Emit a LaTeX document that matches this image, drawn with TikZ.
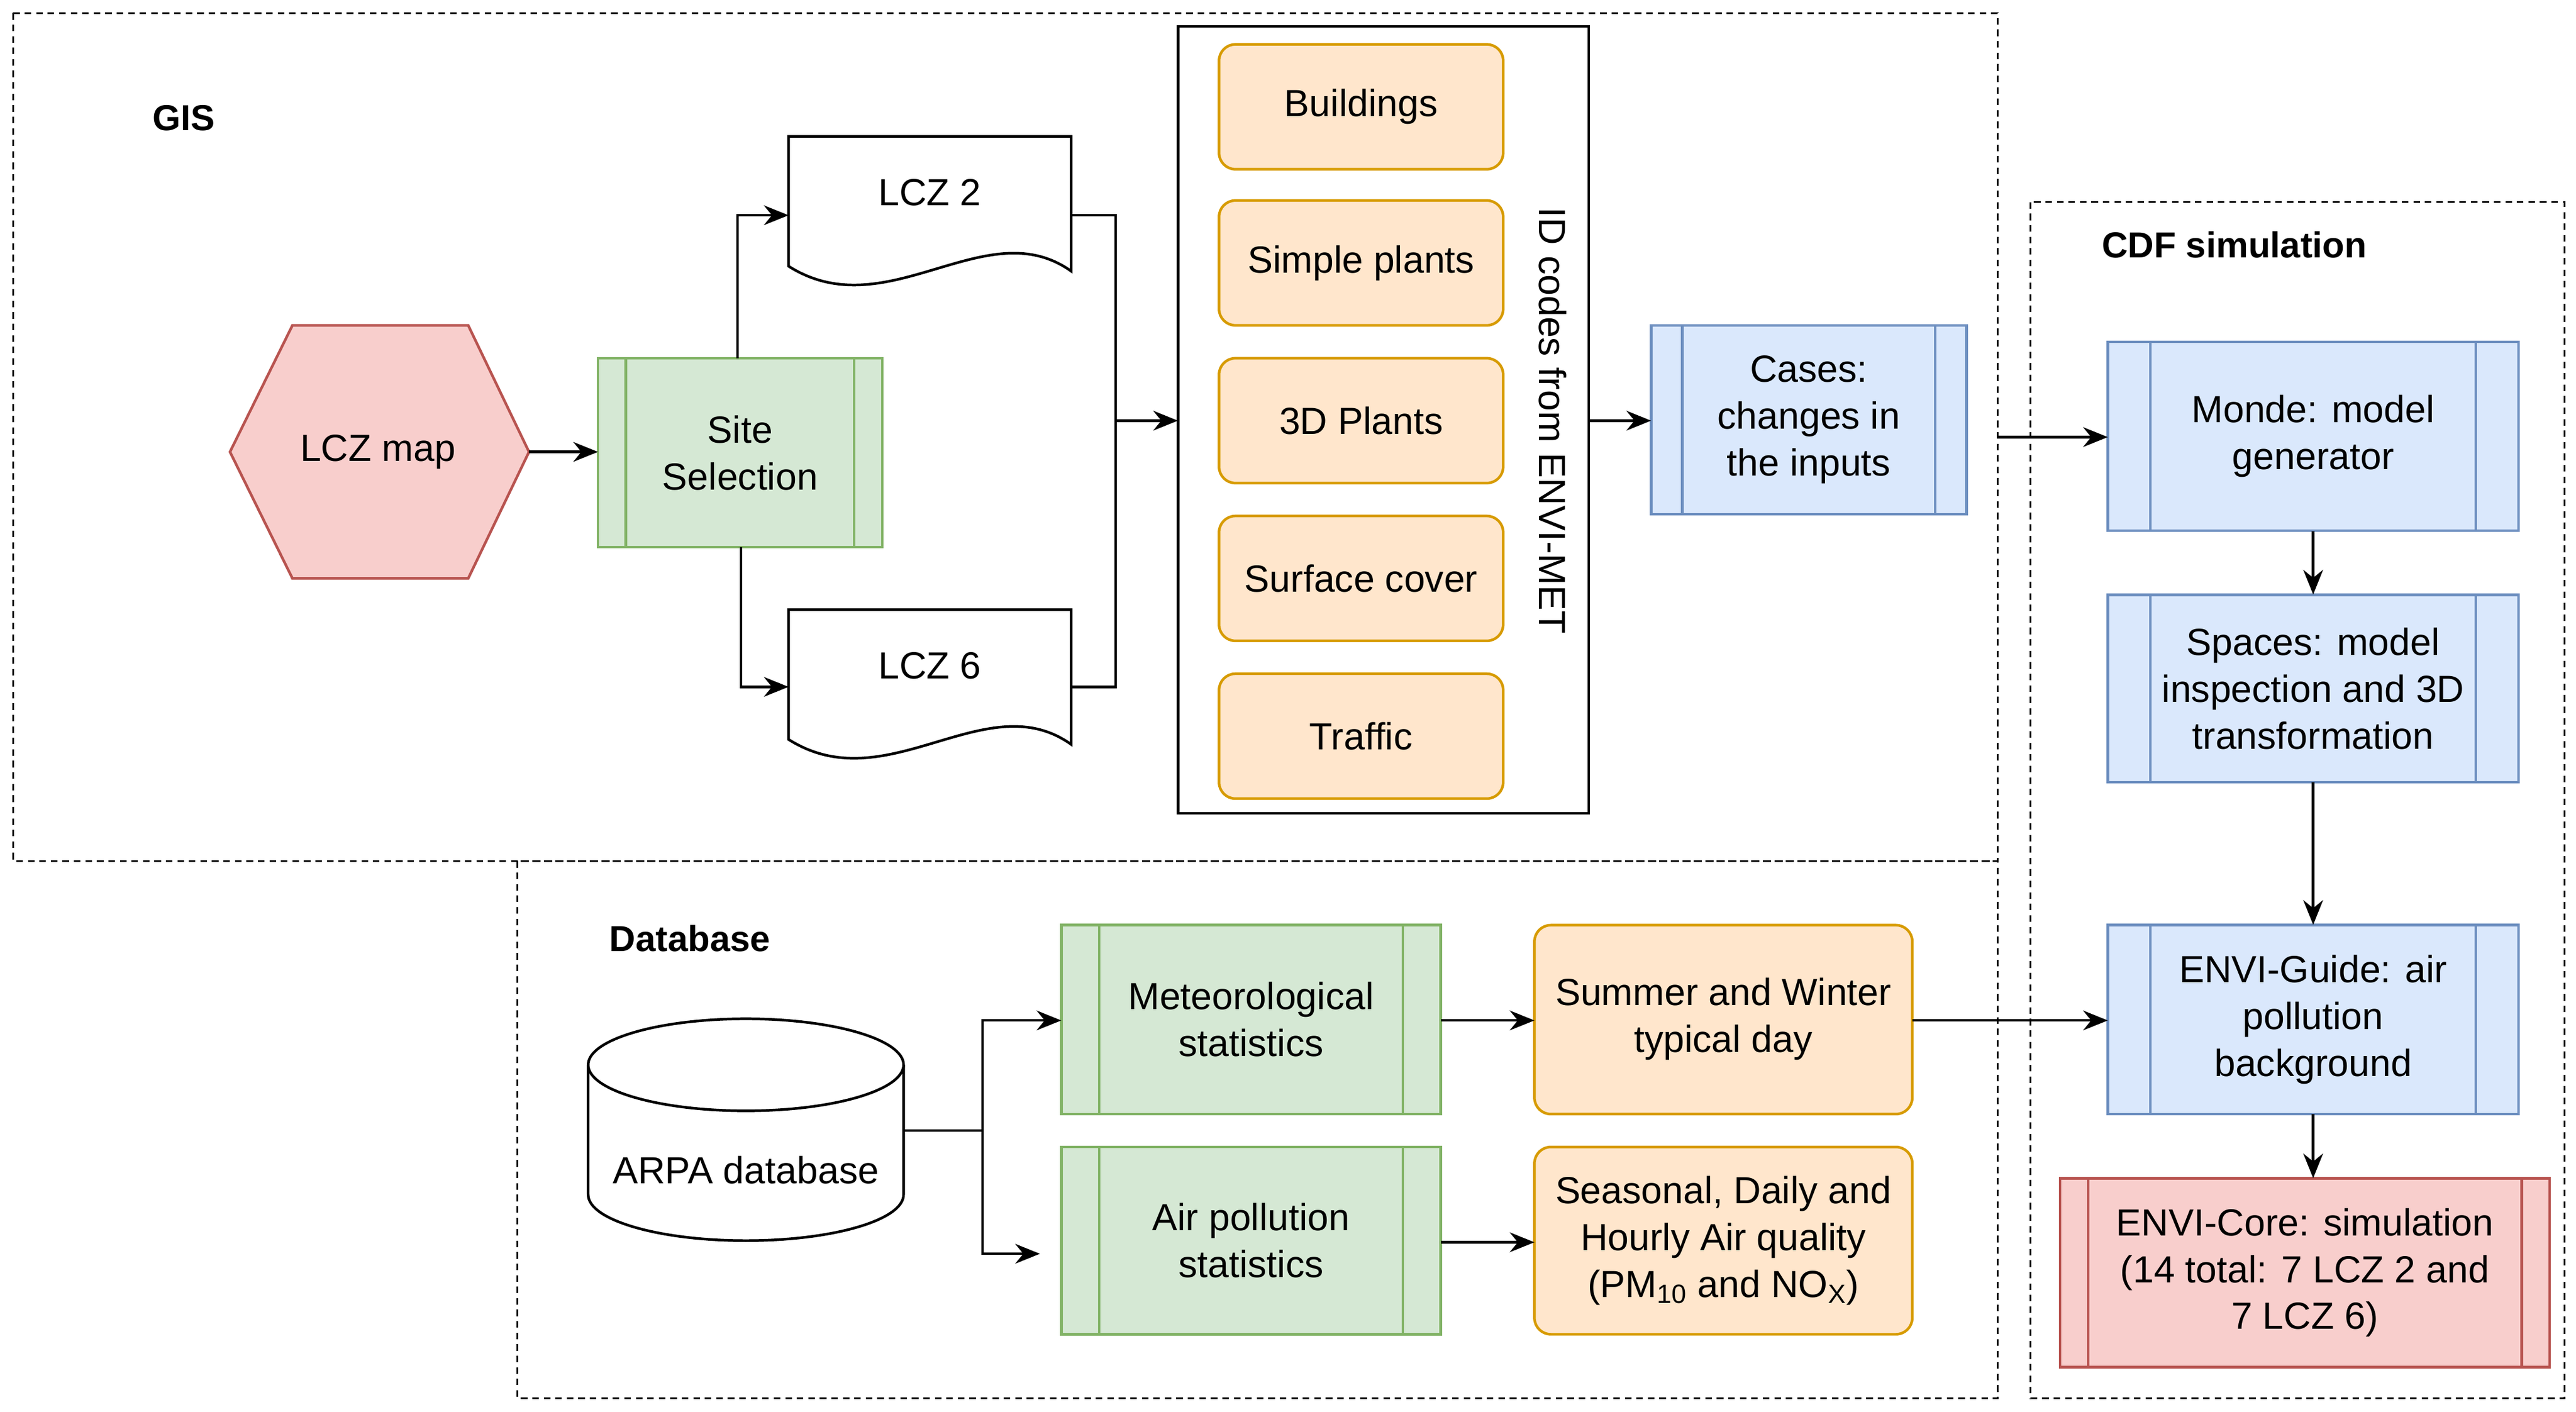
\documentclass[tikz,border=0pt]{standalone}
\usepackage{fontspec}
\setmainfont{Liberation Sans}
\usetikzlibrary{arrows.meta,shapes.geometric}
\definecolor{oF}{HTML}{FFE6CC}\definecolor{oD}{HTML}{D79B00}
\definecolor{gF}{HTML}{D5E8D4}\definecolor{gD}{HTML}{82B366}
\definecolor{bF}{HTML}{DAE8FC}\definecolor{bD}{HTML}{6C8EBF}
\definecolor{rF}{HTML}{F8CECC}\definecolor{rD}{HTML}{B85450}
\begin{document}
\begin{tikzpicture}[x=1pt,y=-1pt,
  every node/.style={font=\fontsize{23}{28.5}\selectfont,align=center},
  arr/.style={-{Stealth[length=15pt,width=12pt]},line width=1.6pt},
  grp/.style={dash pattern=on 4pt off 3pt,line width=1.2pt},
  orange/.style={draw=oD,fill=oF,line width=1.6pt,rounded corners=10pt},
  green/.style={draw=gD,fill=gF},
  blue/.style={draw=bD,fill=bF},
  red/.style={draw=rD,fill=rF}]
\useasboundingbox (0,0) rectangle (1568,859);
% groups
\draw[grp] (8,8) rectangle (1216,524);
\draw[grp] (1236,123) rectangle (1561,851);
\draw[grp] (315,524) rectangle (1216,851);
\node[font=\fontsize{22}{28}\selectfont\bfseries] at (112,72) {GIS};
\node[font=\fontsize{22}{28}\selectfont\bfseries] at (1360,149) {CDF simulation};
\node[font=\fontsize{22}{28}\selectfont\bfseries] at (420,571) {Database};
% hexagon
\draw[red,line width=1.6pt] (140,275)--(178,198)--(285,198)--(322,275)--(285,352)--(178,352)--cycle;
\node (hex) at (230,275) {LCZ map};
\coordinate (hexE) at (322,275);
% process boxes
\def\pbox#1#2#3#4#5#6#7{%
  \draw[#1,line width=1.6pt] (#3,#4) rectangle (#5,#6);
  \draw[#1,line width=1.6pt,fill=none] ({#3+#7},#4)--({#3+#7},#6) ({#5-#7},#4)--({#5-#7},#6);
  \node[inner sep=0] (#2) at ({(#3+#5)/2},{(#4+#6)/2}) [minimum width={(#5-#3)*1pt},minimum height={(#6-#4)*1pt}] {};}
\pbox{green}{site}{364}{218}{537}{333}{17}
\node at (site) {Site\\Selection};
\pbox{blue}{cases}{1005}{198}{1197}{313}{19}
\node at (cases) {Cases:\\changes in\\the inputs};
\pbox{blue}{monde}{1283}{208}{1533}{323}{26}
\node at (monde) {Monde: model\\generator};
\pbox{blue}{spaces}{1283}{362}{1533}{476}{26}
\node at (spaces) {Spaces: model\\inspection and 3D\\transformation};
\pbox{blue}{guide}{1283}{563}{1533}{678}{26}
\node at (guide) {ENVI-Guide: air\\pollution\\background};
\pbox{red}{core}{1254}{717}{1552}{832}{17}
\node at (core) {ENVI-Core: simulation\\(14 total: 7 LCZ 2 and\\7 LCZ 6)};
\pbox{green}{met}{646}{563}{877}{678}{23}
\node at (met) {Meteorological\\statistics};
\pbox{green}{air}{646}{698}{877}{812}{23}
\node at (air) {Air pollution\\statistics};
% documents
\draw[line width=1.6pt,fill=white] (480,83)--(652,83)--(652,165) .. controls (600,128) and (540,200) .. (480,162) -- cycle;
\node (lcz2) at (566,117) {LCZ 2};
\draw[line width=1.6pt,fill=white] (480,371)--(652,371)--(652,453) .. controls (600,416) and (540,488) .. (480,450) -- cycle;
\node (lcz6) at (566,405) {LCZ 6};
% container
\draw[line width=1.6pt] (717,16) rectangle (967,495);
\coordinate (contW) at (717,256);
\coordinate (contE) at (967,256);
\node[rotate=-90] at (945,256) {ID codes from ENVI-MET};
\foreach \y/\t in {27/Buildings,122/Simple plants,218/3D Plants,314/Surface cover,410/Traffic}{
  \draw[orange] (742,\y) rectangle (915,\y+76);
  \node at (828.5,\y+38) {\t};}
% orange lower
\draw[orange] (934,563) rectangle (1164,678);
\node (summer) at (1049,620) {Summer and Winter\\typical day};
\draw[orange] (934,698) rectangle (1164,812);
\node (seas) at (1049,755) {Seasonal, Daily and\\Hourly Air quality\\(PM\textsubscript{10} and NO\textsubscript{X})};
% cylinder
\draw[line width=1.6pt,fill=white] (358,648) -- (358,727) arc[start angle=180,end angle=0,x radius=96,y radius=28] -- (550,648);
\draw[line width=1.6pt,fill=white] (454,648) ellipse[x radius=96,y radius=28];
\node (arpa) at (454,712) {ARPA database};
% edges
\draw[arr] (hexE) -- (364,275);
\draw[arr] (449,218) |- (480,131);
\draw[arr] (451,333) |- (480,418);
\draw[line width=1.6pt] (652,131) -| (679,256);
\draw[line width=1.6pt] (652,418) -| (679,256);
\draw[arr] (679,256) -- (contW);
\draw[arr] (contE) -- (1005,256);
\draw[arr] (1216,266) -- (1283,266);
\draw[arr] (monde.south) -- (spaces.north);
\draw[arr] (spaces.south) -- (guide.north);
\draw[arr] (1408,678) -- (1408,717);
\draw[line width=1.6pt] (550,688) -- (598,688);
\draw[arr] (598,688) |- (646,621);
\draw[arr] (598,688) |- (633,763);
\draw[arr] (877,621) -- (934,621);
\draw[arr] (877,756) -- (934,756);
\draw[arr] (1164,621) -- (1283,621);
\end{tikzpicture}
\end{document}
